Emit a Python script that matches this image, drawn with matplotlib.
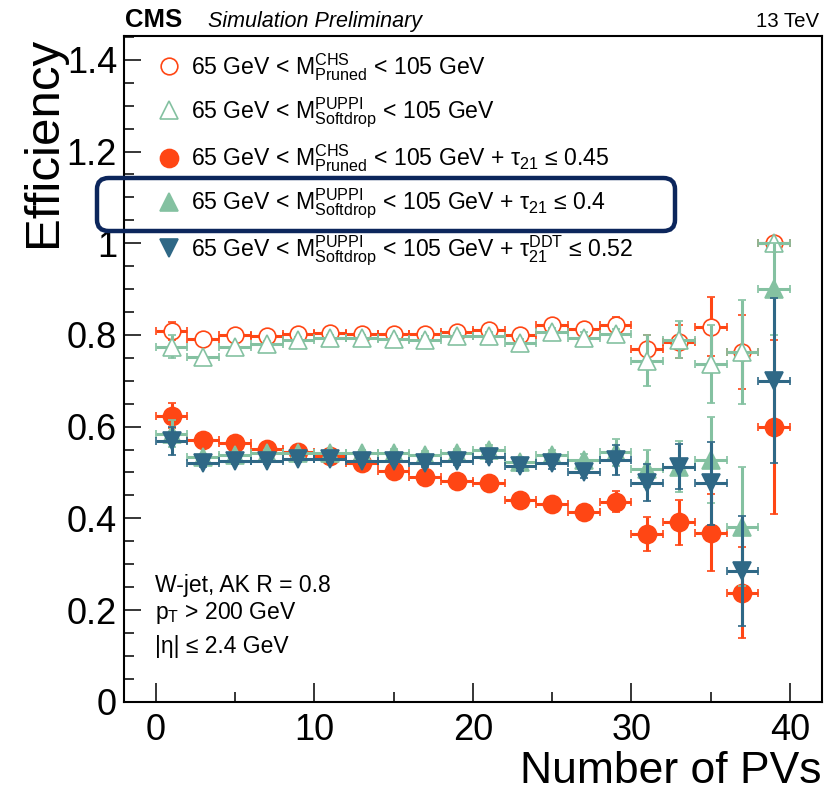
import matplotlib
matplotlib.use("Agg")
import matplotlib.pyplot as plt
from matplotlib.lines import Line2D
from matplotlib.patches import FancyBboxPatch
from matplotlib.ticker import MultipleLocator

plt.rcParams['font.family'] = ['Liberation Sans', 'DejaVu Sans']
plt.rcParams['mathtext.fontset'] = 'custom'
plt.rcParams['mathtext.rm'] = 'Liberation Sans'
plt.rcParams['mathtext.it'] = 'Liberation Sans:italic'
plt.rcParams['mathtext.bf'] = 'Liberation Sans:bold'

# ---------------- data ----------------
n_pv = [1, 3, 5, 7, 9, 11, 13, 15, 17, 19, 21, 23, 25, 27, 29, 31, 33, 35, 37, 39]
bin_half_width = [1] * 20

eff_pruned_chs = [0.809, 0.791, 0.800, 0.798, 0.802, 0.805, 0.803, 0.802, 0.803, 0.806,
                  0.811, 0.800, 0.822, 0.814, 0.822, 0.769, 0.785, 0.818, 0.763, 1.000]
err_pruned_chs = [0.019, 0.006, 0.006, 0.006, 0.006, 0.006, 0.006, 0.006, 0.007, 0.007,
                  0.008, 0.009, 0.010, 0.012, 0.018, 0.030, 0.036, 0.065, 0.080, 0.005]

eff_sd_puppi = [0.774, 0.751, 0.774, 0.781, 0.790, 0.793, 0.793, 0.792, 0.790, 0.798,
                0.798, 0.783, 0.806, 0.794, 0.801, 0.744, 0.790, 0.737, 0.763, 1.000]
err_sd_puppi = [0.025, 0.006, 0.006, 0.006, 0.006, 0.006, 0.006, 0.006, 0.007, 0.007,
                0.008, 0.009, 0.010, 0.012, 0.012, 0.055, 0.040, 0.085, 0.114, 0.005]

eff_pruned_tau = [0.624, 0.570, 0.565, 0.551, 0.544, 0.537, 0.521, 0.504, 0.491, 0.481,
                  0.478, 0.441, 0.431, 0.414, 0.436, 0.366, 0.391, 0.369, 0.238, 0.600]
err_pruned_tau = [0.028, 0.007, 0.007, 0.007, 0.007, 0.007, 0.007, 0.008, 0.008, 0.009,
                  0.010, 0.011, 0.012, 0.014, 0.023, 0.037, 0.050, 0.083, 0.100, 0.190]

eff_sd_tau = [0.585, 0.534, 0.538, 0.542, 0.542, 0.543, 0.543, 0.543, 0.538, 0.542,
              0.550, 0.523, 0.538, 0.527, 0.544, 0.508, 0.513, 0.527, 0.382, 0.900]
err_sd_tau = [0.030, 0.007, 0.007, 0.007, 0.007, 0.007, 0.007, 0.008, 0.008, 0.009,
              0.010, 0.011, 0.012, 0.014, 0.030, 0.040, 0.055, 0.093, 0.130, 0.100]

eff_sd_ddt = [0.569, 0.520, 0.525, 0.525, 0.529, 0.529, 0.525, 0.526, 0.521, 0.526,
              0.533, 0.515, 0.520, 0.502, 0.527, 0.478, 0.513, 0.476, 0.286, 0.700]
err_sd_ddt = [0.030, 0.007, 0.007, 0.007, 0.007, 0.007, 0.007, 0.008, 0.008, 0.009,
              0.010, 0.011, 0.012, 0.014, 0.032, 0.040, 0.050, 0.090, 0.120, 0.180]

labels = [
    r'65 GeV < $\mathrm{M}^{\mathrm{CHS}}_{\mathrm{Pruned}}$ < 105 GeV',
    r'65 GeV < $\mathrm{M}^{\mathrm{PUPPI}}_{\mathrm{Softdrop}}$ < 105 GeV',
    r'65 GeV < $\mathrm{M}^{\mathrm{CHS}}_{\mathrm{Pruned}}$ < 105 GeV + $\mathrm{\tau}_{21}$ ≤ 0.45',
    r'65 GeV < $\mathrm{M}^{\mathrm{PUPPI}}_{\mathrm{Softdrop}}$ < 105 GeV + $\mathrm{\tau}_{21}$ ≤ 0.4',
    r'65 GeV < $\mathrm{M}^{\mathrm{PUPPI}}_{\mathrm{Softdrop}}$ < 105 GeV + $\mathrm{\tau}^{\mathrm{DDT}}_{21}$ ≤ 0.52',
]

RED = '#FF4614'
GREEN = '#84C1A1'
BLUE = '#2F6886'
NAVY = '#0C265C'

# ---------------- figure ----------------
fig = plt.figure(figsize=(8.35, 7.92), dpi=100)
ax = fig.add_axes([0.1485, 0.114, 0.8355, 0.8405])

series = [
    (eff_pruned_chs, err_pruned_chs, 'o', RED, False, 12),
    (eff_sd_puppi, err_sd_puppi, '^', GREEN, False, 13),
    (eff_pruned_tau, err_pruned_tau, 'o', RED, True, 13),
    (eff_sd_tau, err_sd_tau, '^', GREEN, True, 13),
    (eff_sd_ddt, err_sd_ddt, 'v', BLUE, True, 13),
]

handles = []
for i, (y, e, m, c, filled, ms) in enumerate(series):
    ax.errorbar(n_pv, y, xerr=bin_half_width, yerr=e, fmt=m, ms=ms,
                mfc=c if filled else 'white', mec=c, mew=1.2,
                ecolor=c, elinewidth=2.2, capsize=2.8, capthick=2.2,
                zorder=3 + i)
    handles.append(Line2D([], [], ls='none', marker=m, ms=ms,
                          mfc=c if filled else 'none', mec=c, mew=1.2))

ax.set_xlim(-2, 42)
ax.set_ylim(0, 1.452)

ax.xaxis.set_major_locator(MultipleLocator(10))
ax.xaxis.set_minor_locator(MultipleLocator(5))
ax.yaxis.set_major_locator(MultipleLocator(0.2))
ax.yaxis.set_minor_locator(MultipleLocator(0.05))
ax.yaxis.set_major_formatter(matplotlib.ticker.FuncFormatter(
    lambda v, p: '0' if abs(v) < 1e-9 else ('1' if abs(v - 1) < 1e-9 else f'{v:.1f}')))

ax.tick_params(which='both', direction='in', top=False, right=False,
               labelsize=26, width=1.1, colors='black')
ax.tick_params(axis='x', which='major', length=14, pad=8)
ax.tick_params(axis='x', which='minor', length=7)
ax.tick_params(axis='y', which='major', length=12, pad=5)
ax.tick_params(axis='y', which='minor', length=7.5)
for s in ax.spines.values():
    s.set_linewidth(1.5)

# axis titles
fig.text(43 / 835, 1 - 37 / 792, 'Efficiency', rotation=90, ha='center', va='top',
         fontsize=35.5)
fig.text(0.984, 1 - 783 / 792, 'Number of PVs', ha='right', va='baseline', fontsize=32)

# header
fig.text(125 / 835, 1 - 27 / 792, 'CMS', fontsize=18.5, fontweight='bold', va='baseline')
fig.text(208 / 835, 1 - 27 / 792, 'Simulation Preliminary', fontsize=15.5,
         fontstyle='italic', va='baseline')
fig.text(819 / 835, 1 - 27 / 792, '13 TeV', fontsize=14.7, ha='right', va='baseline')

# selection text
ax.text(0.0444, 0.165, 'W-jet, AK R = 0.8', transform=ax.transAxes, fontsize=16.5,
        va='baseline')
ax.text(0.0444, 0.124, r'p$_\mathrm{T}$ > 200 GeV', transform=ax.transAxes, fontsize=16.5,
        va='baseline')
ax.text(0.0444, 0.073, '|η| ≤ 2.4 GeV', transform=ax.transAxes, fontsize=16.5,
        va='baseline')

# legend
leg = ax.legend(handles, labels, loc='upper left', bbox_to_anchor=(0.0473, 0.977),
                frameon=False, fontsize=16.6, borderaxespad=0, borderpad=0,
                handlelength=1.0, handletextpad=0.48, labelspacing=0.55)
leg.set_zorder(20)

# highlight box around 4th entry
box = FancyBboxPatch((97 / 835, 1 - 231 / 792), (675 - 97) / 835, 53 / 792,
                     boxstyle='round,pad=0,rounding_size=0.014',
                     transform=fig.transFigure, fill=False, edgecolor=NAVY,
                     linewidth=3.2, zorder=30, clip_on=False)
fig.add_artist(box)

fig.savefig('out.png', dpi=100)
